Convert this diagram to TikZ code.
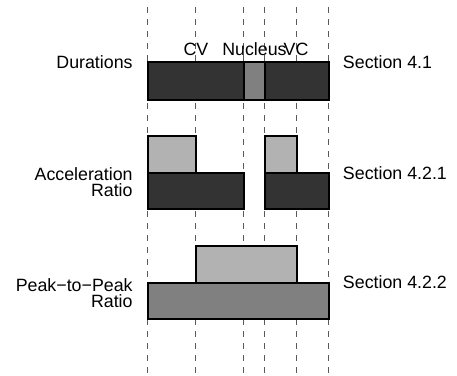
\documentclass[tikz,border=0pt]{standalone}
\usepackage{fontspec}
\setmainfont{Liberation Sans}
\usepackage{tikz}
\usetikzlibrary{positioning}

\definecolor{darkbar}{gray}{0.2}
\definecolor{midbar}{gray}{0.5}
\definecolor{lightbar}{gray}{0.7}

\begin{document}
\begin{tikzpicture}[x=0.5pt, y=-0.5pt,
        font=\fontsize{8.9}{8.35}\selectfont,
        bar/.style={draw=black, line width=0.8pt},
        guide/.style={draw=black!65, line width=0.5pt,
            dash pattern=on 3pt off 3pt},
        lbl/.style={inner sep=0pt, align=right}]
        \useasboundingbox (0,0) rectangle (457,376);

        % segment borders
        \foreach \n/\x in {a/148, b/196, c/244, d/265, e/297, f/329}
        {
            \coordinate (top\n) at (\x,7);
            \coordinate (bot\n) at (\x,376);
            \draw[guide] (top\n) -- (bot\n);
        }

        \node[inner sep=0pt] (cv) at (196,49) {CV};
        \node[inner sep=0pt] (nucleus) at (254.5,49) {Nucleus};
        \node[inner sep=0pt] (vc) at (296,49) {VC};

        % durations
        \draw[bar, fill=darkbar] (148,62) rectangle (244,100);
        \draw[bar, fill=midbar] (244,62) rectangle (265,100);
        \draw[bar, fill=darkbar] (265,62) rectangle (329,100);
        \coordinate (dur) at (148,62);
        \coordinate (durR) at (329,62.5);
        \node[lbl, left=7.5pt of dur] (durations) {Durations};
        \node[lbl, right=6.8pt of durR] (sec1) {Section 4.1};

        % acceleration ratio
        \draw[bar, fill=lightbar] (148,136) rectangle (196,172.7);
        \draw[bar, fill=lightbar] (265,136) rectangle (297,172.7);
        \draw[bar, fill=darkbar] (148,172.7) rectangle (244,209);
        \draw[bar, fill=darkbar] (265,172.7) rectangle (329,209);
        \coordinate (acc) at (148,182);
        \coordinate (accR) at (329,173.3);
        \node[lbl, left=7.5pt of acc] (accel) {Acceleration\\Ratio};
        \node[lbl, right=6.8pt of accR] (sec2) {Section 4.2.1};

        % peak-to-peak ratio
        \draw[bar, fill=lightbar] (196,246) rectangle (297,282.7);
        \draw[bar, fill=midbar] (148,282.7) rectangle (329,319);
        \coordinate (ptp) at (148,293);
        \coordinate (ptpR) at (329,282);
        \node[lbl, left=7.5pt of ptp] (peak) {Peak−to−Peak\\Ratio};
        \node[lbl, right=6.8pt of ptpR] (sec3) {Section 4.2.2};
    \end{tikzpicture}
\end{document}
